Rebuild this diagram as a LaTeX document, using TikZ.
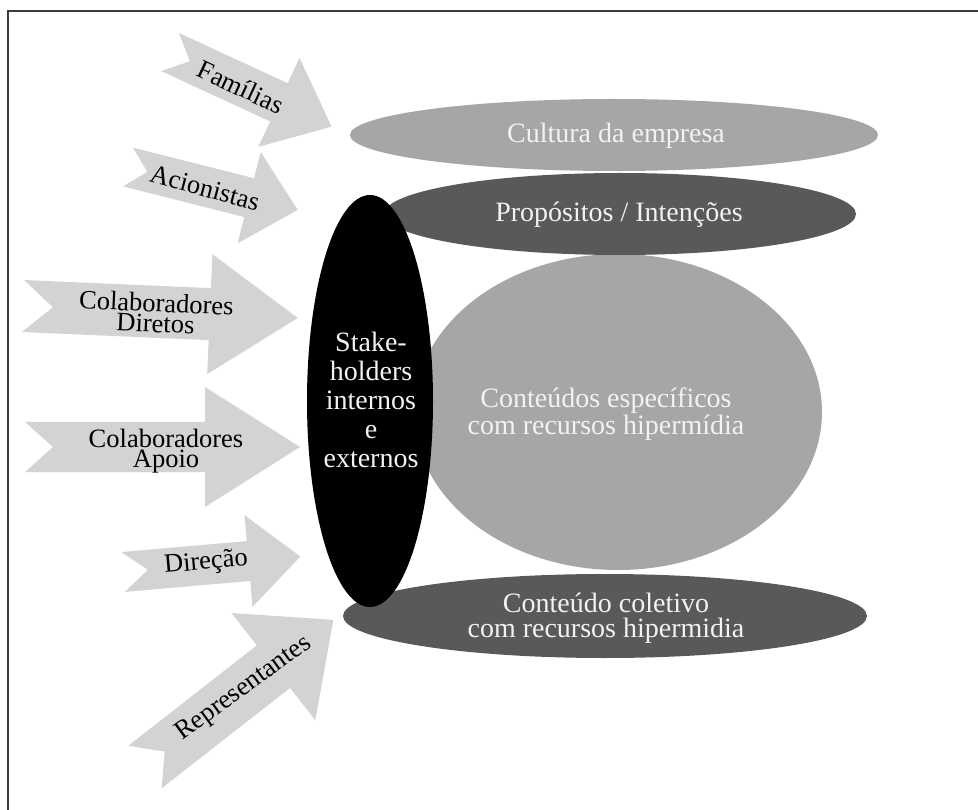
\documentclass[tikz,border=0pt]{standalone}
\usepackage{fontspec}
\setmainfont{Liberation Serif}
\usetikzlibrary{shapes.geometric}
\definecolor{arrowgray}{HTML}{D3D3D3}
\definecolor{lightell}{HTML}{A6A6A6}
\definecolor{darkell}{HTML}{595959}
\definecolor{framegray}{HTML}{3C3C3C}
\definecolor{elltextcol}{HTML}{F2F2F2}
% #1 x, #2 y (tail middle), #3 angle, #4 length, #5 body half width,
% #6 head half width, #7 head length, #8 notch depth
\newcommand{\notchedarrow}[8]{%
  \begin{scope}[shift={(#1,#2)},rotate=#3]
    \fill[arrowshape] (0,#5) -- ({#4-#7},#5) -- ({#4-#7},#6) -- (#4,0)
      -- ({#4-#7},-#6) -- ({#4-#7},-#5) -- (0,-#5) -- (#8,0) -- cycle;
  \end{scope}}
\begin{document}
\begin{tikzpicture}[x=1pt,y=-1pt,
  arrowshape/.style={fill=arrowgray},
  ell/.style={ellipse, inner sep=0pt, draw=none},
  arrowtext/.style={font=\fontsize{26.5}{20.5}\selectfont, align=center, text=black, inner sep=0pt},
  elltext/.style={font=\fontsize{28}{25}\selectfont, align=center, text=elltextcol, inner sep=0pt}]
\useasboundingbox[fill=white] (0,0) rectangle (978,810);
\draw[framegray, line width=2] (8,810) -- (8,11) -- (978,11);

% arrows
\notchedarrow{170}{52}{-24.8}{178}{21}{49}{58}{22}
\notchedarrow{128}{167}{-14.2}{175}{20}{47}{50}{20}
\notchedarrow{23}{306}{-2.5}{275}{26}{60}{88}{30}
\notchedarrow{25}{447}{0}{275}{25}{60}{95}{28}
\notchedarrow{123}{572}{5}{178}{20}{46}{52}{25}
\notchedarrow{145}{767}{38}{239}{27}{68}{76}{25}

\node[arrowtext, rotate=-25] (familias) at (241,87) {Famílias};
\node[arrowtext, rotate=-15] (acionistas) at (205,188) {Acionistas};
\node[arrowtext, rotate=-2.5] (diretos) at (156,313) {Colaboradores\\Diretos};
\node[arrowtext] (apoio) at (166,451) {Colaboradores\\Apoio};
\node[arrowtext, rotate=5] (direcao) at (206,563) {Direção};
\node[arrowtext, rotate=36] (representantes) at (244,689) {Representantes};

% ellipses
\node[ell, fill=lightell, minimum width=528, minimum height=72] (cultura) at (614,135) {};
\node[ell, fill=lightell, minimum width=408, minimum height=316] (conteudos) at (618,412) {};
\node[ell, fill=darkell, minimum width=472, minimum height=82] (propositos) at (620,214) {};
\node[ell, fill=darkell, minimum width=524, minimum height=84] (coletivo) at (605,616) {};
\node[ell, fill=black, minimum width=126, minimum height=412] (stake) at (370,401) {};

\node[elltext] (cultura-t) at (616,136) {Cultura da empresa};
\node[elltext] (propositos-t) at (619,215) {Propósitos / Intenções};
\node[elltext] (conteudos-t) at (606,414) {Conteúdos específicos\\com recursos hipermídia};
\node[elltext] (coletivo-t) at (606,618) {Conteúdo coletivo\\com recursos hipermidia};
\node[elltext, font=\fontsize{28}{29}\selectfont] (stake-t) at (371,400) {Stake-\\holders\\internos\\e\\externos};
\end{tikzpicture}
\end{document}
